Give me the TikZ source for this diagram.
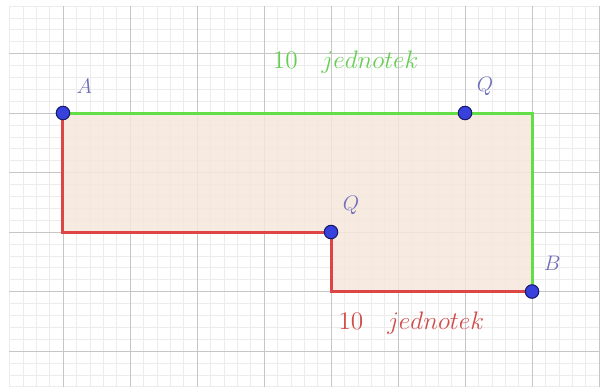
\documentclass[tikz,border=0pt]{standalone}
\usetikzlibrary{positioning, backgrounds}

\definecolor{gridmajor}{RGB}{198,198,198}
\definecolor{gridminor}{RGB}{236,236,236}
\definecolor{pathgreen}{RGB}{100,222,70}
\definecolor{pathred}{RGB}{222,70,70}
\definecolor{areafill}{RGB}{246,231,220}
\definecolor{dotblue}{RGB}{55,65,220}
\definecolor{dotedge}{RGB}{25,25,110}
\definecolor{labelcol}{RGB}{110,110,185}
\definecolor{textgreen}{RGB}{105,205,85}
\definecolor{textred}{RGB}{210,75,75}

\begin{document}
\begin{tikzpicture}[
    x=1.34cm, y=1.19cm,
    point/.style={circle, draw=dotedge, fill=dotblue, line width=0.6pt, inner sep=0pt, minimum size=0.27cm},
    ptlabel/.style={text=labelcol, font=\fontsize{12.5}{15}\selectfont},
    greenpath/.style={pathgreen, line width=1.7pt},
    redpath/.style={pathred, line width=1.7pt},
    lentext/.style={font=\fontsize{13.6}{16}\selectfont}
]
\useasboundingbox (-0.94,-4.605) rectangle (8.104,1.899);

\node (A) [point] at (0,0) {};
\node (Qtop) [point] at (6,0) {};
\node (Q) [point] at (4,-2) {};
\node (B) [point] at (7,-3) {};

\coordinate (topright) at (7,0);
\coordinate (leftlow) at (0,-2);
\coordinate (steplow) at (4,-3);

\begin{scope}[on background layer]
\foreach \i in {-4,...,40}
    \draw[gridminor, line width=0.3pt] (\i/5,-4.6) -- (\i/5,1.8);
\foreach \j in {-23,...,9}
    \draw[gridminor, line width=0.3pt] (-0.8,\j/5) -- (8.0,\j/5);
\foreach \i in {0,...,8}
    \draw[gridmajor, line width=0.5pt] (\i,-4.6) -- (\i,1.8);
\foreach \j in {-4,...,1}
    \draw[gridmajor, line width=0.5pt] (-0.8,\j) -- (8.0,\j);

\fill[areafill, opacity=0.85] (A.center) -- (topright) -- (B.center) -- (steplow) -- (Q.center) -- (leftlow) -- cycle;

\draw[greenpath] (A.center) -- (topright) -- (B.center);
\draw[redpath] (A.center) -- (leftlow) -- (Q.center) -- (steplow) -- (B.center);
\end{scope}

\node (labA) [ptlabel] at (0.32,0.45) {$A$};
\node (labQtop) [ptlabel] at (6.3,0.45) {$Q$};
\node (labQ) [ptlabel] at (4.3,-1.55) {$Q$};
\node (labB) [ptlabel] at (7.3,-2.53) {$B$};

\node (greenlen) [lentext, text=textgreen] at (4.22,0.86) {$10\quad jednotek$};
\node (redlen) [lentext, text=textred] at (5.2,-3.53) {$10\quad jednotek$};

\end{tikzpicture}
\end{document}
